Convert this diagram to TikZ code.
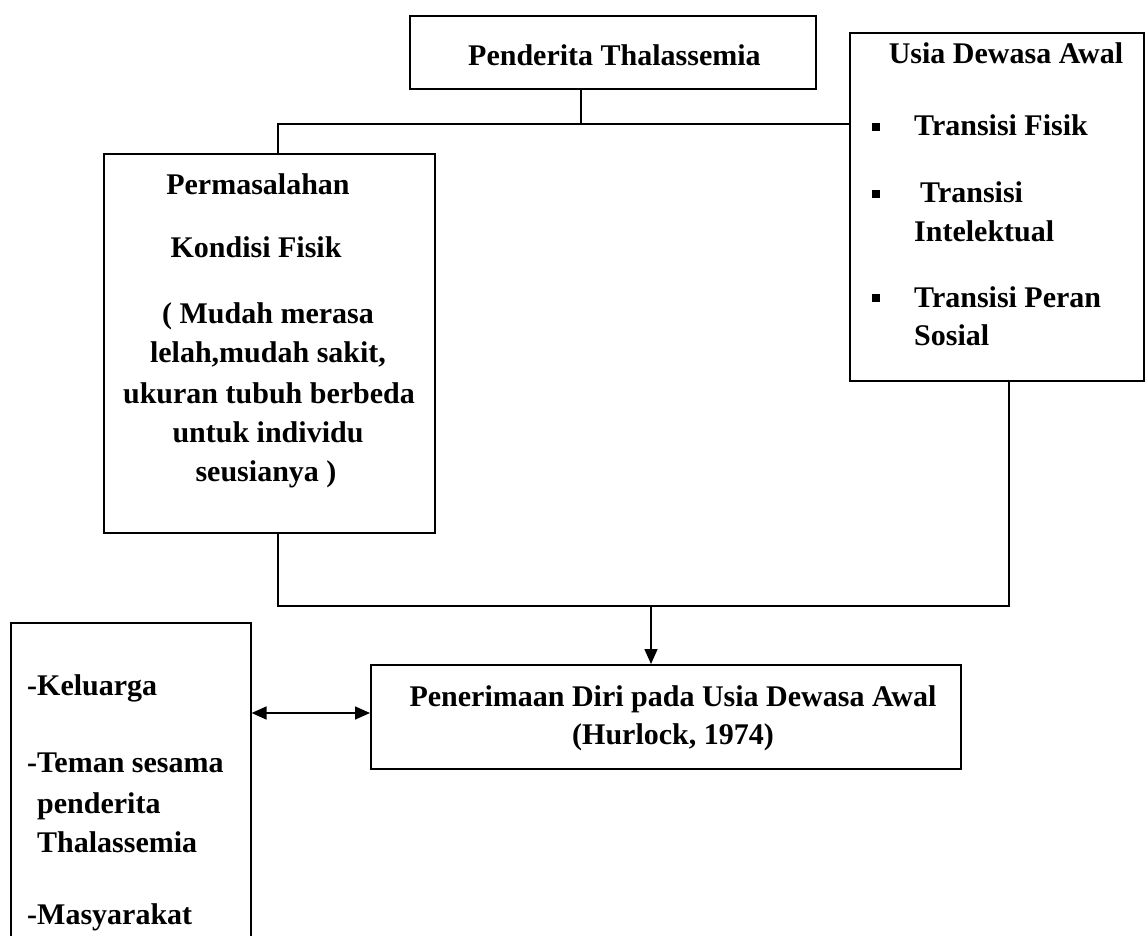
\documentclass[tikz,border=0pt]{standalone}
\usepackage{fontspec}
\setmainfont{Liberation Serif}
\usetikzlibrary{arrows.meta}
\begin{document}
\begin{tikzpicture}[x=1pt,y=-1pt,
  box/.style={draw, line width=1.6pt, rectangle, anchor=north west, inner sep=0pt},
  txt/.style={inner sep=0pt, font=\fontsize{30}{39}\selectfont\bfseries},
  bul/.style={fill, rectangle, minimum size=8pt, inner sep=0pt},
  wire/.style={line width=1.6pt},
  arr/.style={line width=1.6pt, -{Triangle[length=15pt,width=13pt]}},
  darr/.style={line width=1.6pt, {Triangle[length=15pt,width=13pt]}-{Triangle[length=15pt,width=13pt]}}]
\useasboundingbox (0,0) rectangle (1145,936);
% boxes
\node[box, minimum width=406pt, minimum height=73pt] (top) at (409,15) {};
\node[box, minimum width=294pt, minimum height=348pt] (usia) at (849,32) {};
\node[box, minimum width=331pt, minimum height=379pt] (perm) at (103,153) {};
\node[box, minimum width=590pt, minimum height=104pt] (pen) at (370,664) {};
\node[box, minimum width=240pt, minimum height=340pt] (fam) at (10,622) {};
% texts
\node[txt, anchor=base west] (t1) at (468,66) {Penderita Thalassemia};
\node[txt, anchor=base] (u0) at (1006,64) {Usia Dewasa Awal};
\node[bul] (b1) at (876,127) {};
\node[bul] (b2) at (876,194) {};
\node[bul] (b3) at (876,298) {};
\node[txt, anchor=base west] (u1) at (914,136) {Transisi Fisik};
\node[txt, anchor=base west] (u2) at (920,203) {Transisi};
\node[txt, anchor=base west] (u3) at (914,241) {Intelektual};
\node[txt, anchor=base west] (u4) at (914,307) {Transisi Peran};
\node[txt, anchor=base west] (u5) at (914,345) {Sosial};
\node[txt, anchor=base] (p1) at (258,195) {Permasalahan};
\node[txt, anchor=base] (p2) at (256,257) {Kondisi Fisik};
\node[txt, anchor=base] (p3) at (268,323) {( Mudah merasa};
\node[txt, anchor=base] (p4) at (268,362) {lelah,mudah sakit,};
\node[txt, anchor=base] (p5) at (269,403) {ukuran tubuh berbeda};
\node[txt, anchor=base] (p6) at (268,442) {untuk individu};
\node[txt, anchor=base] (p7) at (266,481) {seusianya )};
\node[txt, anchor=base] (n1) at (673,706) {Penerimaan Diri pada Usia Dewasa Awal};
\node[txt, anchor=base] (n2) at (673,744) {(Hurlock, 1974)};
\node[txt, anchor=base west] (f1) at (27,695) {-Keluarga};
\node[txt, anchor=base west] (f2) at (27,772) {-Teman sesama};
\node[txt, anchor=base west] (f3) at (37,813) {penderita};
\node[txt, anchor=base west] (f4) at (37,852) {Thalassemia};
\node[txt, anchor=base west] (f5) at (27,924) {-Masyarakat};
% connectors
\coordinate (j1) at (581,124);
\coordinate (j2) at (278,124);
\coordinate (j3) at (278,606);
\coordinate (j4) at (1009,606);
\coordinate (j5) at (651,606);
\coordinate (j6) at (0,713);
\draw[wire] (j1 |- top.south) -- (j1);
\draw[wire] (j2 |- perm.north) -- (j2) -- (j2 -| usia.west);
\draw[wire] (j3 |- perm.south) -- (j3) -- (j4) -- (j4 |- usia.south);
\draw[arr] (j5) -- (j5 |- pen.north);
\draw[darr] (fam.east |- j6) -- (pen.west |- j6);
\end{tikzpicture}
\end{document}
